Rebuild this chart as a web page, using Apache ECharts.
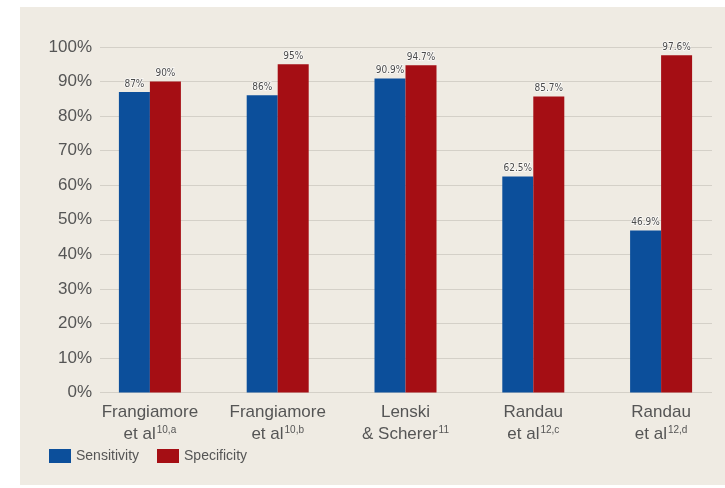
<!DOCTYPE html>
<html>
<head>
<meta charset="utf-8">
<script src="https://cdn.jsdelivr.net/npm/echarts@6/dist/echarts.min.js"></script>
<style>
  html, body { margin: 0; padding: 0; background: #ffffff; }
  #chart { width: 725px; height: 488px; }
</style>
</head>
<body>
<div id="chart"></div>
<script>
// Study names (first line / second line) and their reference superscripts
const studyLine1 = ['Frangiamore', 'Frangiamore', 'Lenski', 'Randau', 'Randau'];
const studyLine2 = ['et al', 'et al', '& Scherer', 'et al', 'et al'];
const studyRefs = ['10,a', '10,b', '11', '12,c', '12,d'];

// Diagnostic performance, percent
const sensitivity = [87, 86, 90.9, 62.5, 46.9];
const specificity = [90, 95, 94.7, 85.7, 97.6];

// Y axis tick settings
const yMin = 0;
const yMax = 100;
const yStep = 10;

const categories = studyLine1.map((_, i) => i);

const chart = echarts.init(document.getElementById('chart'), null, { renderer: 'canvas' });

const textGray = '#555555';
const blue = '#0c4f9b';
const red = '#a50e14';

const valueLabel = {
  show: true,
  position: 'top',
  distance: 3,
  fontFamily: '"Liberation Sans Narrow", "DejaVu Sans Condensed", sans-serif',
  fontSize: 10,
  color: '#4a4a4a',
  textBorderColor: 'rgba(255,255,255,0.8)',
  textBorderWidth: 1.5,
  formatter: p => p.value + '%'
};

chart.setOption({
  animation: false,
  graphic: [{
    type: 'rect',
    z: -10,
    shape: { x: 20, y: 7, width: 705, height: 478 },
    style: { fill: '#efebe3' },
    silent: true
  }],
  grid: [
    { left: 86, right: -3, top: 47, bottom: 95.5 },
    { left: 100, right: 13, top: 47, bottom: 95.5 }
  ],
  legend: {
    left: 49,
    top: 449,
    padding: 0,
    itemWidth: 22,
    itemHeight: 14,
    itemGap: 18,
    icon: 'rect',
    textStyle: { fontFamily: '"Liberation Sans", Arial, sans-serif', fontSize: 14, color: textGray },
    data: ['Sensitivity', 'Specificity']
  },
  xAxis: [{
    type: 'category',
    gridIndex: 0,
    data: categories,
    axisLine: { show: false },
    axisTick: { show: false },
    axisLabel: {
      margin: 9,
      interval: 0,
      formatter: v => '{a|' + studyLine1[v] + '}\n{a|' + studyLine2[v] + '}{s|' + studyRefs[v] + '}',
      rich: {
        a: { fontFamily: '"Liberation Sans", Arial, sans-serif', fontSize: 17, color: textGray, lineHeight: 22 },
        s: { fontFamily: '"Liberation Sans", Arial, sans-serif', fontSize: 10, color: textGray, lineHeight: 22, verticalAlign: 'top', padding: [2, 0, 0, 1] }
      }
    }
  }, {
    type: 'category',
    gridIndex: 1,
    show: false,
    data: categories
  }],
  yAxis: [{
    type: 'value',
    gridIndex: 0,
    min: yMin, max: yMax, interval: yStep,
    show: false,
    splitLine: { show: false }
  }, {
    type: 'value',
    gridIndex: 1,
    min: yMin, max: yMax, interval: yStep,
    axisLine: { show: false },
    axisTick: { show: false },
    axisLabel: {
      margin: 8,
      fontFamily: '"Liberation Sans", Arial, sans-serif',
      fontSize: 17,
      color: textGray,
      formatter: v => v + '%'
    },
    splitLine: { show: true, lineStyle: { color: '#d4d0c8', width: 1 } }
  }],
  series: [{
    name: 'Sensitivity',
    type: 'bar',
    xAxisIndex: 0, yAxisIndex: 0,
    data: sensitivity,
    barWidth: 31,
    barGap: '0%',
    itemStyle: { color: blue },
    label: valueLabel
  }, {
    name: 'Specificity',
    type: 'bar',
    xAxisIndex: 0, yAxisIndex: 0,
    data: specificity,
    barWidth: 31,
    barGap: '0%',
    itemStyle: { color: red },
    label: valueLabel
  }]
});
</script>
</body>
</html>
